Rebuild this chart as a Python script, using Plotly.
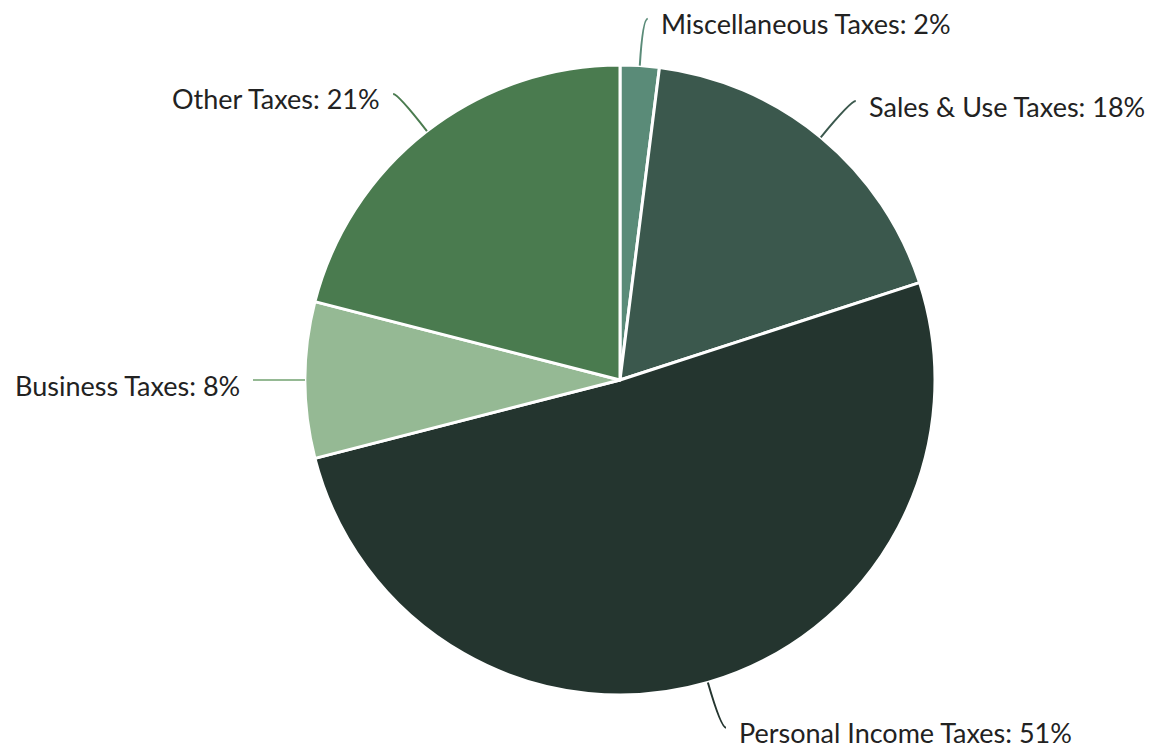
import math
import plotly.graph_objects as go

labels = ["Miscellaneous Taxes", "Sales & Use Taxes", "Personal Income Taxes", "Business Taxes", "Other Taxes"]
values = [2, 18, 51, 8, 21]
colors = ["#5a8b78", "#3b584d", "#24352f", "#95b994", "#4a7b4f"]

W, H = 1155, 747
OFF = 8  # page body margin offset
CX, CY, R = 620 - OFF, 380 - OFF, 315
D = 47

fig = go.Figure(go.Pie(
    labels=labels, values=values, sort=False, direction="clockwise", rotation=0,
    marker=dict(colors=colors, line=dict(color="white", width=3)),
    textinfo="none", hoverinfo="label+percent", showlegend=False,
    domain=dict(x=[(CX - R) / W, (CX + R) / W], y=[(H - CY - R) / H, (H - CY + R) / H]),
))

def px(x, y):
    return x / W, 1 - y / H

total = sum(values)
cum = 0
shapes, annotations = [], []
for lab, v, c in zip(labels, values, colors):
    mid = (cum + v / 2) / total * 2 * math.pi
    cum += v
    s, co = math.sin(mid), math.cos(mid)
    side = 1 if s >= 0 else -1
    ex, ey = CX + R * s, CY - R * co
    ax, ay = CX + (R + D) * s, CY - (R + D) * co
    endx = ax + side * 5
    p0, p1, p2 = px(ex, ey), px(ax, ay), px(endx, ay)
    shapes.append(dict(type="path", xref="paper", yref="paper",
                       path=f"M {p0[0]},{p0[1]} Q {p1[0]},{p1[1]} {p2[0]},{p2[1]}",
                       line=dict(color=c, width=2)))
    tx, ty = px(endx + side * 11, ay + 5)
    annotations.append(dict(x=tx, y=ty, xref="paper", yref="paper", showarrow=False,
                            text=f"{lab}: {round(v / total * 100)}%",
                            xanchor="left" if side > 0 else "right", yanchor="middle",
                            font=dict(family="Lato", size=27, color="#222222")))

fig.update_layout(width=W, height=H, margin=dict(l=0, r=0, t=0, b=0),
                  paper_bgcolor="white", plot_bgcolor="white",
                  shapes=shapes, annotations=annotations)
fig.write_html("out.html")
